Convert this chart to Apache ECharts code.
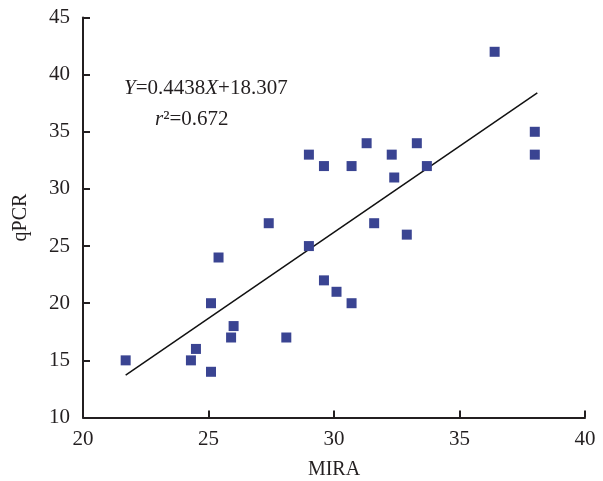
<!DOCTYPE html>
<html>
<head>
<meta charset="utf-8">
<script src="https://cdn.jsdelivr.net/npm/echarts@6/dist/echarts.min.js"></script>
<style>
html, body { margin: 0; padding: 0; background: #fff; }
#main { width: 603px; height: 481px; }
</style>
</head>
<body>
<div id="main"></div>
<script>
// MIRA vs qPCR
var miraValues = [21.7, 24.3, 24.5, 25.1, 25.1, 25.4, 25.9, 26.0, 27.4, 28.1, 29.0, 29.0, 29.6, 29.6,
    30.1, 30.7, 30.7, 31.3, 31.6, 32.3, 32.4, 32.9, 33.3, 33.7, 36.4, 38.0, 38.0];
var qpcrValues = [15, 15, 16, 14, 20, 24, 17, 18, 27, 17, 25, 33, 22, 32,
    21, 20, 32, 34, 27, 33, 31, 26, 34, 32, 42, 35, 33];
var fitLine = [[21.7, 13.7], [38.1, 38.4]];
var xTicks = [20, 25, 30, 35, 40];
var yTicks = [10, 15, 20, 25, 30, 35, 40, 45];

var points = [];
for (var i = 0; i < miraValues.length; i++) {
    points.push([miraValues[i], qpcrValues[i]]);
}

var myChart = echarts.init(document.getElementById('main'));
var font = '"Liberation Serif", "Times New Roman", serif';
var ink = '#231f20';
var axisStyle = { lineStyle: { color: ink, width: 2 } };

var option = {
    animation: false,
    grid: { left: 83, right: 18, top: 17.5, bottom: 63.5, outerBoundsMode: 'none' },
    xAxis: {
        type: 'value',
        min: xTicks[0], max: xTicks[xTicks.length - 1], interval: 5,
        name: 'MIRA', nameLocation: 'middle', nameGap: 42,
        nameTextStyle: { fontFamily: font, fontSize: 20, color: ink },
        axisLine: axisStyle,
        axisTick: { inside: true, length: 7, lineStyle: { color: ink, width: 2 } },
        axisLabel: { fontFamily: font, fontSize: 21, color: ink, margin: 11 },
        splitLine: { show: false }
    },
    yAxis: {
        type: 'value',
        min: yTicks[0], max: yTicks[yTicks.length - 1], interval: 5,
        name: 'qPCR', nameLocation: 'middle', nameGap: 52,
        nameTextStyle: { fontFamily: font, fontSize: 20, color: ink },
        axisLine: axisStyle,
        axisTick: { inside: true, length: 7, lineStyle: { color: ink, width: 2 } },
        axisLabel: { fontFamily: font, fontSize: 21, color: ink, margin: 13 },
        splitLine: { show: false }
    },
    series: [
        {
            type: 'line',
            data: fitLine,
            symbol: 'none',
            lineStyle: { color: '#111', width: 1.5 },
            z: 1
        },
        {
            type: 'scatter',
            data: points,
            symbol: 'rect',
            symbolSize: 10,
            itemStyle: { color: '#3a4492', opacity: 1 },
            z: 2
        }
    ],
    graphic: [
        {
            type: 'text', left: 124, top: 78,
            style: {
                text: '{i|Y}=0.4438{i|X}+18.307',
                fontFamily: font, fontSize: 21, fill: ink,
                rich: { i: { fontStyle: 'italic', fontFamily: font, fontSize: 21, fill: ink } }
            }
        },
        {
            type: 'text', left: 155, top: 109,
            style: {
                text: '{i|r}²=0.672',
                fontFamily: font, fontSize: 21, fill: ink,
                rich: { i: { fontStyle: 'italic', fontFamily: font, fontSize: 21, fill: ink } }
            }
        }
    ]
};

myChart.setOption(option);
</script>
</body>
</html>
